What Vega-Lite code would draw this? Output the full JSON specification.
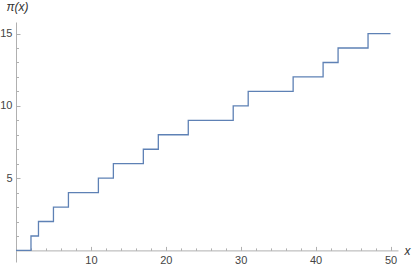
{
  "$schema": "https://vega.github.io/schema/vega-lite/v6.json",
  "width": 382,
  "height": 240,
  "autosize": {"type": "none"},
  "padding": {"left": 16, "top": 22, "right": 16, "bottom": 9},
  "background": "white",
  "config": {"view": {"stroke": null}, "font": "Liberation Sans"},
  "data": {"values": [
    {"x": 0, "pi": 0}, {"x": 2, "pi": 1}, {"x": 3, "pi": 2}, {"x": 5, "pi": 3},
    {"x": 7, "pi": 4}, {"x": 11, "pi": 5}, {"x": 13, "pi": 6}, {"x": 17, "pi": 7},
    {"x": 19, "pi": 8}, {"x": 23, "pi": 9}, {"x": 29, "pi": 10}, {"x": 31, "pi": 11},
    {"x": 37, "pi": 12}, {"x": 41, "pi": 13}, {"x": 43, "pi": 14}, {"x": 47, "pi": 15},
    {"x": 50, "pi": 15}
  ]},
  "mark": {"type": "line", "interpolate": "step-after", "color": "#5E81B5", "strokeWidth": 1.3},
  "encoding": {
    "x": {
      "field": "x", "type": "quantitative",
      "scale": {"domain": [0, 51], "nice": false, "zero": false},
      "axis": {
        "title": "x", "titleFontStyle": "italic", "titleFontWeight": "normal", "titleFontSize": 12,
        "titleColor": "#333", "titleAngle": 0, "titleAlign": "left", "titleBaseline": "middle",
        "titleX": 388, "titleY": 0,
        "offset": -11.6, "grid": false,
        "values": [2,4,6,8,10,12,14,16,18,20,22,24,26,28,30,32,34,36,38,40,42,44,46,48,50],
        "labelExpr": "datum.value % 10 === 0 ? datum.label : ''",
        "tickSize": {"condition": {"test": "datum.value % 10 === 0", "value": -4}, "value": -2.5},
        "labelPadding": 8,
        "domainColor": "#b0b0b0", "tickColor": "#b0b0b0",
        "labelColor": "#444", "labelFontSize": 11, "labelFlush": false
      }
    },
    "y": {
      "field": "pi", "type": "quantitative",
      "scale": {"domain": [-0.8, 15.8], "nice": false, "zero": false},
      "axis": {
        "title": "π(x)", "titleFontStyle": "italic", "titleFontWeight": "normal", "titleFontSize": 12,
        "titleColor": "#333", "titleAngle": 0, "titleAlign": "center", "titleBaseline": "alphabetic",
        "titleX": 1, "titleY": -12,
        "grid": false,
        "values": [1,2,3,4,5,6,7,8,9,10,11,12,13,14,15],
        "labelExpr": "datum.value % 5 === 0 ? datum.label : ''",
        "tickSize": {"condition": {"test": "datum.value % 5 === 0", "value": -4}, "value": -2.5},
        "labelPadding": 8,
        "domainColor": "#b0b0b0", "tickColor": "#b0b0b0",
        "labelColor": "#444", "labelFontSize": 11
      }
    }
  }
}
